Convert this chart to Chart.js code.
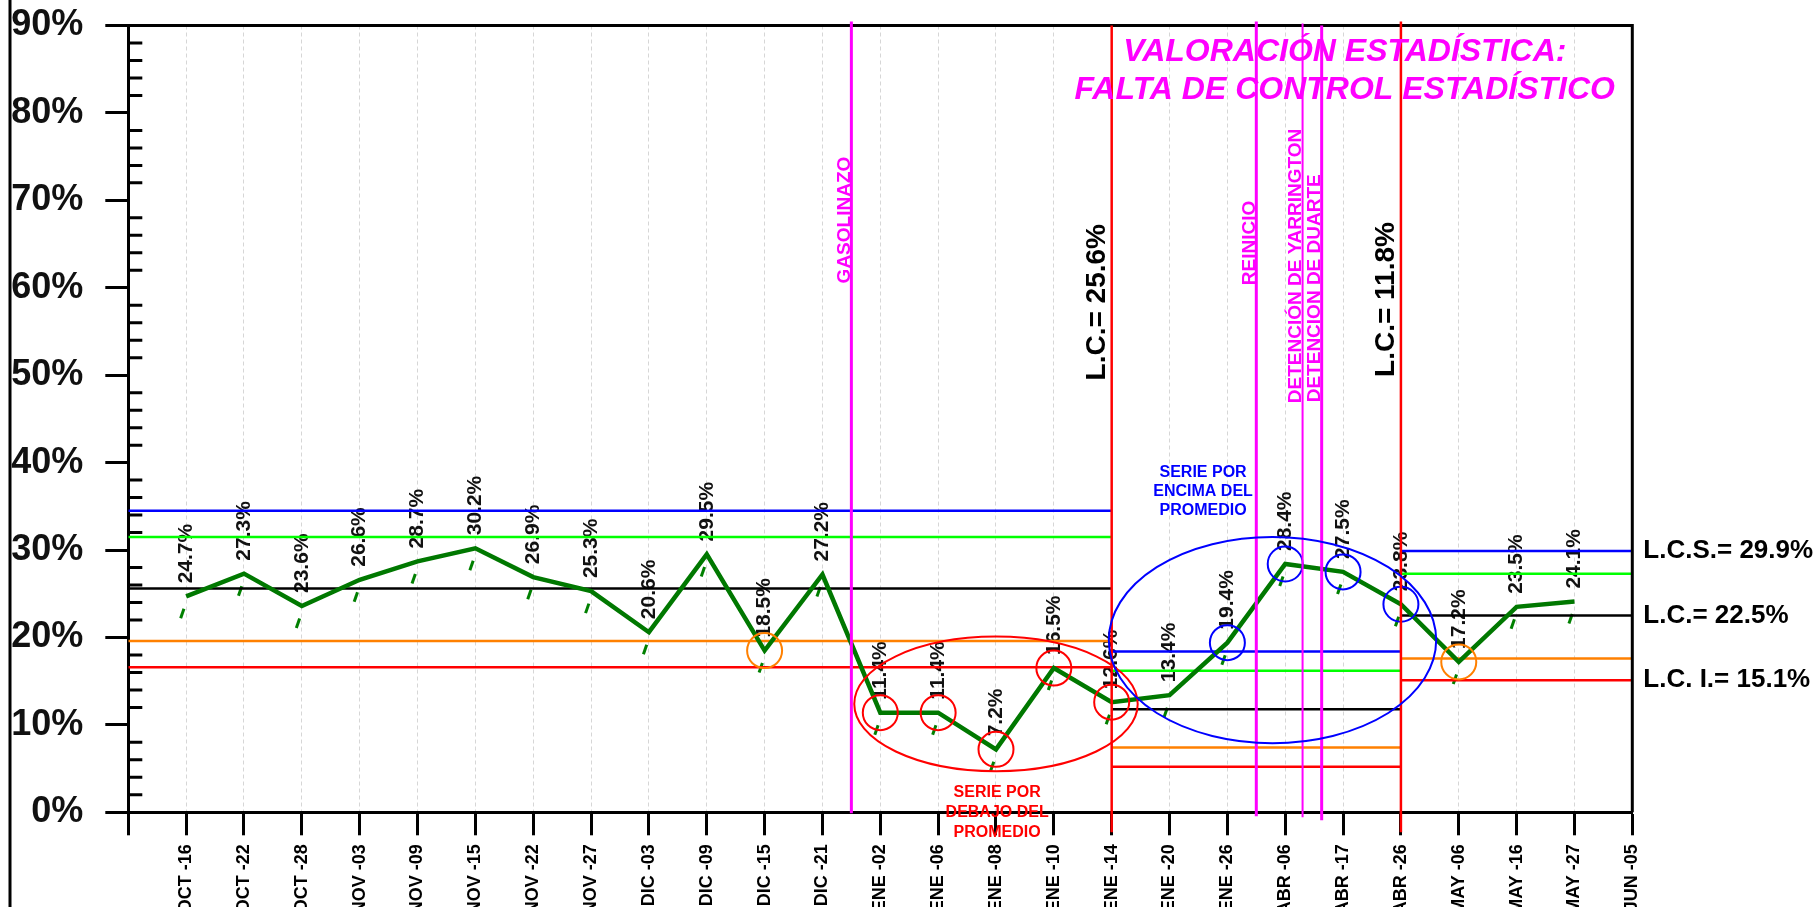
<!DOCTYPE html>
<html>
<head>
<meta charset="utf-8">
<title>Valoración estadística</title>
<script src="https://cdn.jsdelivr.net/npm/chart.js"></script>
<style>
  body { margin: 0; background: #fff; }
  #wrap { position: relative; width: 1817px; height: 907px; }
</style>
</head>
<body>
<div id="wrap"><canvas id="chart"></canvas></div>
<script>
// weekly categories (x = 1..26, x = 0 is the empty slot at the y axis)
const categories = ['OCT -16', 'OCT -22', 'OCT -28', 'NOV -03', 'NOV -09', 'NOV -15', 'NOV -22', 'NOV -27',
  'DIC -03', 'DIC -09', 'DIC -15', 'DIC -21', 'ENE -02', 'ENE -06', 'ENE -08', 'ENE -10', 'ENE -14',
  'ENE -20', 'ENE -26', 'ABR -06', 'ABR -17', 'ABR -26', 'MAY -06', 'MAY -16', 'MAY -27', 'JUN -05'];
const values = [24.7, 27.3, 23.6, 26.6, 28.7, 30.2, 26.9, 25.3, 20.6, 29.5, 18.5, 27.2,
  11.4, 11.4, 7.2, 16.5, 12.6, 13.4, 19.4, 28.4, 27.5, 23.8, 17.2, 23.5, 24.1];
const yTicks = [0, 10, 20, 30, 40, 50, 60, 70, 80, 90];

// control limits per phase
const segStart = [0, 17, 22];
const segEnd = [17, 22, 26];
const limSup = [34.5, 18.4, 29.9];   // blue
const limSup2 = [31.5, 16.2, 27.3];  // green
const limCL = [25.6, 11.8, 22.5];    // black
const limInf2 = [19.6, 7.4, 17.6];   // orange
const limInf = [16.6, 5.2, 15.1];    // red

// events
const eventX = [12.5, 19.5, 20.3, 20.63];
const eventLabels = ['GASOLINAZO', 'REINICIO', 'DETENCIÓN DE YARRINGTON', 'DETENCION DE DUARTE'];
const phaseX = [17, 22];

// marked points
const redCircles = ['ENE -02', 'ENE -06', 'ENE -08', 'ENE -10', 'ENE -14'];
const orangeCircles = ['DIC -15', 'MAY -06'];
const blueCircles = ['ENE -26', 'ABR -06', 'ABR -17', 'ABR -26'];

// runs: [center x, center y, half width (x units), half height (%)]
const runBelow = [15, 12.4, 2.45, 7.7];
const runAbove = [19.78, 19.7, 2.83, 11.8];

const titleLines = ['VALORACIÓN ESTADÍSTICA:', 'FALTA DE CONTROL ESTADÍSTICO'];
const runBelowText = ['SERIE POR', 'DEBAJO DEL', 'PROMEDIO'];
const runAboveText = ['SERIE POR', 'ENCIMA DEL', 'PROMEDIO'];

const FONT = '"Liberation Sans", Arial, sans-serif';
const MAGENTA = '#ff00ff';

function pts(names) {
  return names.map(n => { const i = categories.indexOf(n); return { x: i + 1, y: values[i] }; });
}

const limitSets = [[limSup, '#0000ff'], [limSup2, '#00ff00'], [limCL, '#000000'], [limInf2, '#ff8000'], [limInf, '#ff0000']];
const datasets = [];
limitSets.forEach(([arr, col]) => {
  arr.forEach((v, s) => {
    datasets.push({
      data: [{ x: segStart[s], y: v }, { x: segEnd[s], y: v }],
      borderColor: col, borderWidth: 2.5, pointRadius: 0, order: 3
    });
  });
});
datasets.push({
  data: values.map((v, i) => ({ x: i + 1, y: v })),
  borderColor: '#007800', borderWidth: 4.5, pointRadius: 0, order: 2, borderJoinStyle: 'miter'
});
[[redCircles, '#ff0000'], [orangeCircles, '#ff8000'], [blueCircles, '#0000ff']].forEach(([names, col]) => {
  datasets.push({
    data: pts(names), showLine: false, pointRadius: 17.5, pointBorderWidth: 2,
    pointBorderColor: col, pointBackgroundColor: 'rgba(0,0,0,0)', order: 1, clip: false
  });
});

function vtext(ctx, text, x, y, font, color, baseline) {
  ctx.save();
  ctx.translate(x, y);
  ctx.rotate(-Math.PI / 2);
  ctx.font = font;
  ctx.fillStyle = color;
  ctx.textAlign = 'left';
  ctx.textBaseline = baseline || 'alphabetic';
  ctx.fillText(text, 0, 0);
  ctx.restore();
}

const decor = {
  id: 'decor',
  beforeDatasetsDraw(chart) {
    const { ctx, scales: { x, y } } = chart;
    // value labels and small marks under each point
    values.forEach((v, i) => {
      const px = x.getPixelForValue(i + 1), py = y.getPixelForValue(v);
      vtext(ctx, v.toFixed(1) + '%', px, py - 13, 'bold 21px ' + FONT, '#111', 'middle');
      ctx.save();
      ctx.strokeStyle = '#008000';
      ctx.lineWidth = 3;
      ctx.beginPath();
      ctx.moveTo(px - 5.5, py + 22);
      ctx.lineTo(px - 2.2, py + 12.5);
      ctx.stroke();
      ctx.restore();
    });
  },
  afterDatasetsDraw(chart) {
    const { ctx, chartArea: a, scales: { x, y } } = chart;
    ctx.save();
    // frame: top and right border, left page rule
    ctx.strokeStyle = '#000';
    ctx.lineWidth = 3;
    ctx.beginPath();
    ctx.moveTo(a.left, a.top);
    ctx.lineTo(a.right, a.top);
    ctx.lineTo(a.right, a.bottom);
    ctx.stroke();
    ctx.fillStyle = '#000';
    ctx.fillRect(8.5, 0, 3, chart.height);
    // minor ticks on y axis
    ctx.beginPath();
    for (let v = 2; v < 90; v += 2) {
      if (v % 10 === 0) continue;
      const py = y.getPixelForValue(v);
      ctx.moveTo(a.left, py);
      ctx.lineTo(a.left + 14, py);
    }
    ctx.stroke();

    // event lines (magenta)
    const evWidth = [3, 3, 2, 3], evTop = [4, 4, 2, 0], evBottom = [1, 4, 5, 8];
    const evTextEnd = [60.5, 60.3, 46.8, 46.9];
    eventX.forEach((ex, k) => {
      const px = x.getPixelForValue(ex);
      ctx.strokeStyle = MAGENTA;
      ctx.lineWidth = evWidth[k];
      ctx.beginPath();
      ctx.moveTo(px, a.top - evTop[k]);
      ctx.lineTo(px, a.bottom + evBottom[k]);
      ctx.stroke();
      vtext(ctx, eventLabels[k], px - 1.5, y.getPixelForValue(evTextEnd[k]), 'bold 19px ' + FONT, MAGENTA);
    });

    // phase change lines (red) with centre line label
    const phaseTextEnd = [49.4, 49.8];
    phaseX.forEach((ex, k) => {
      const px = x.getPixelForValue(ex);
      ctx.strokeStyle = '#ff0000';
      ctx.lineWidth = 2.5;
      ctx.beginPath();
      ctx.moveTo(px, a.top - (k ? 4 : 0));
      ctx.lineTo(px, a.bottom + 20);
      ctx.stroke();
      vtext(ctx, 'L.C.= ' + limCL[k] + '%', px - 6.5, y.getPixelForValue(phaseTextEnd[k]), 'bold 28px ' + FONT, '#000');
    });

    // run ellipses
    [[runBelow, '#ff0000'], [runAbove, '#0000ff']].forEach(([e, col]) => {
      const cx = x.getPixelForValue(e[0]), cy = y.getPixelForValue(e[1]);
      const rx = x.getPixelForValue(e[0] + e[2]) - cx;
      const ry = cy - y.getPixelForValue(e[1] + e[3]);
      ctx.strokeStyle = col;
      ctx.lineWidth = 2;
      ctx.beginPath();
      ctx.ellipse(cx, cy, rx, ry, 0, 0, Math.PI * 2);
      ctx.stroke();
    });

    // run captions
    ctx.textAlign = 'center';
    ctx.textBaseline = 'middle';
    ctx.font = 'bold 16px ' + FONT;
    ctx.fillStyle = '#0000ff';
    runAboveText.forEach((t, k) => ctx.fillText(t, x.getPixelForValue(18.58), y.getPixelForValue(38.9) + k * 19.3));
    ctx.fillStyle = '#ff0000';
    runBelowText.forEach((t, k) => ctx.fillText(t, x.getPixelForValue(15.02), y.getPixelForValue(2.2) + k * 19.8));

    // title
    ctx.font = 'italic bold 32px ' + FONT;
    ctx.fillStyle = MAGENTA;
    ctx.fillText(titleLines[0], x.getPixelForValue(21.03), y.getPixelForValue(86.9));
    ctx.fillText(titleLines[1], x.getPixelForValue(21.03), y.getPixelForValue(82.6));

    // last phase limits on the right
    ctx.textAlign = 'left';
    ctx.font = 'bold 26px ' + FONT;
    ctx.fillStyle = '#000';
    const last = limCL.length - 1;
    ctx.fillText('L.C.S.= ' + limSup[last] + '%', a.right + 11, y.getPixelForValue(limSup[last]));
    ctx.fillText('L.C.= ' + limCL[last] + '%', a.right + 11, y.getPixelForValue(limCL[last]));
    ctx.fillText('L.C. I.= ' + limInf[last] + '%', a.right + 11, y.getPixelForValue(limInf[last]));
    ctx.restore();
  }
};

new Chart(document.getElementById('chart'), {
  type: 'line',
  data: { datasets: datasets },
  options: {
    responsive: true,
    maintainAspectRatio: false,
    animation: false,
    events: [],
    layout: { padding: { top: 25.5, right: 184.7, left: 0, bottom: 0 } },
    plugins: { legend: { display: false }, tooltip: { enabled: false } },
    scales: {
      x: {
        type: 'linear', min: 0, max: categories.length,
        afterFit: s => { s.height = 94.7; s.paddingLeft = 0; s.paddingRight = 0; },
        grid: { color: '#d6d6d6', lineWidth: 1, tickColor: '#000', tickWidth: 3, tickLength: 23 },
        border: { color: '#000', width: 3, dash: [4, 3] },
        ticks: {
          stepSize: 1, autoSkip: false, maxRotation: 90, minRotation: 90, padding: 9,
          color: '#000', font: { family: FONT, size: 18, weight: 'bold' },
          callback: v => (v >= 1 && v <= categories.length) ? categories[v - 1] : ''
        }
      },
      y: {
        min: yTicks[0], max: yTicks[yTicks.length - 1],
        afterFit: s => { s.width = 128.3; s.paddingTop = 0; s.paddingBottom = 0; },
        afterBuildTicks: s => { s.ticks = yTicks.map(v => ({ value: v })); },
        grid: { drawOnChartArea: false, tickColor: '#000', tickWidth: 3, tickLength: 23 },
        border: { color: '#000', width: 3 },
        ticks: {
          padding: 22, color: '#111', font: { family: FONT, size: 36, weight: 'bold' },
          callback: v => v + '%'
        }
      }
    }
  },
  plugins: [decor]
});
</script>
</body>
</html>
